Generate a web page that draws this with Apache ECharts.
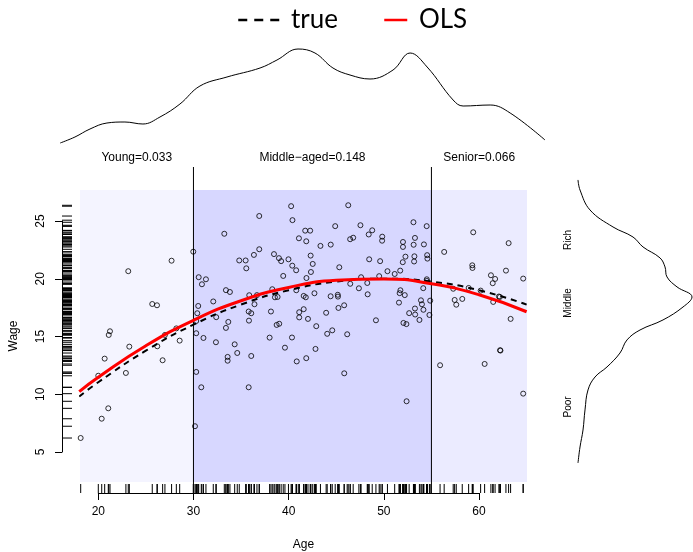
<!DOCTYPE html>
<html><head><meta charset="utf-8">
<script src="https://cdn.jsdelivr.net/npm/echarts@6/dist/echarts.min.js"></script>
<style>html,body{margin:0;padding:0;background:#fff}#c{width:693px;height:552px}</style>
</head><body><div id="c"></div><script>
// ---- data ----
const youngAges = [18.15,20.0,20.36,20.67,21.05,21.1,21.23,22.9,23.15,23.26,25.67,26.17,26.2,26.76,27.0,27.7,28.2,28.55];
const youngWages = [6.21,11.6,7.88,13.08,8.78,15.13,15.45,11.84,20.65,14.12,17.81,17.7,14.15,12.94,15.13,21.56,15.7,14.64];
const middleAges = [29.98,30.16,30.29,30.29,30.29,30.40,30.50,30.55,30.82,30.89,
31.05,31.31,32.08,32.39,32.36,33.24,33.41,33.41,33.66,33.59,
33.59,33.83,34.33,34.60,34.81,35.48,35.55,35.80,35.83,35.80,
35.86,36.07,36.07,36.35,36.41,36.67,36.91,36.91,38.00,38.14,
38.28,38.46,38.56,38.84,38.74,39.01,38.98,39.21,39.43,39.61,
39.98,40.26,40.40,40.38,40.35,40.79,40.80,40.85,41.08,41.11,
41.11,41.58,41.80,41.74,42.26,41.85,41.87,41.85,41.58,42.03,
42.31,42.53,42.34,42.71,42.82,42.90,43.34,43.94,44.05,44.41,
44.42,44.58,44.89,45.16,45.18,45.23,45.32,45.83,45.84,46.15,
46.26,46.46,46.78,46.47,47.38,47.54,47.61,48.26,48.30,48.41,
48.46,48.78,49.17,49.51,49.61,49.83,49.82,50.38,51.14,51.59,
51.66,51.74,51.72,52.01,52.01,51.99,52.06,52.20,52.27,52.37,
52.39,52.66,53.11,53.27,53.13,53.21,53.18,53.27,53.29,53.74,
53.90,54.00,54.16,54.21,54.14,54.50,54.55,54.58,54.51,54.51,
54.79,54.87];
const middleWages = [22.34,7.23,16.34,15.28,11.93,17.01,17.64,20.13,10.60,19.52,
14.87,19.95,18.03,16.67,14.50,23.89,19.01,15.74,16.26,13.23,
12.90,18.85,14.32,13.57,21.58,21.58,20.90,17.16,16.37,10.60,
18.57,17.01,13.31,22.06,17.79,18.58,25.43,22.55,14.90,17.16,
19.09,22.13,18.39,18.42,16.00,16.10,21.78,21.52,20.24,14.03,
21.68,26.28,25.07,21.13,14.91,20.73,19.00,12.84,23.50,17.10,
16.65,18.51,18.39,24.16,24.16,23.24,20.06,13.12,17.36,16.52,
22.00,21.28,20.58,18.74,13.92,15.89,22.84,17.05,15.23,18.48,
22.95,15.53,24.55,18.61,18.45,17.47,20.99,17.70,11.81,15.19,
26.36,23.42,23.55,19.56,19.17,24.63,20.13,19.63,18.65,23.83,
21.68,24.19,16.40,20.22,21.52,23.64,23.29,20.65,20.41,17.93,
18.75,19.00,20.70,23.18,22.75,21.43,16.17,18.58,21.91,16.07,
9.39,17.02,24.89,23.53,22.94,21.94,21.49,17.42,16.90,16.43,
18.13,17.79,17.31,22.97,19.18,24.55,22.04,21.74,19.95,19.81,
16.86,18.10];
const seniorAges = [55.91,56.34,57.29,57.44,57.61,58.24,58.91,59.29,59.31,59.39,60.17,60.59,61.25,61.69,61.44,61.49,62.09,62.19,62.21,62.25,62.83,63.11,63.32,64.64,64.64];
const seniorWages = [12.51,22.32,19.13,18.16,17.75,18.25,19.20,21.16,20.93,24.02,18.97,12.62,20.30,19.98,19.61,17.99,18.46,18.42,13.81,13.78,20.70,23.08,16.52,20.01,10.05];

const regionNames = ['Young', 'Middle\u2212aged', 'Senior'];
const regionShares = [0.033, 0.148, 0.066];
const ageBreaks = [30, 55];
const regionColors = ['rgb(244,244,255)', 'rgb(215,215,255)', 'rgb(235,235,255)'];

const fitAges = [18, 20, 25, 30, 35, 40, 45, 50, 55, 60, 65];
const trueFit = [9.8, 11.04, 13.77, 16.02, 17.76, 19.0, 19.75, 20.0, 19.75, 19.0, 17.76];
const olsFit = [10.23, 11.47, 14.2, 16.4, 18.09, 19.24, 19.87, 19.98, 19.56, 18.61, 17.14];

const ageDensX = [16.0,17.55,19.13,20.91,22.8,24.69,26.48,28.58,30.68,33.52,36.99,38.77,40.98,42.76,44.65,46.44,48.54,50.96,52.75,54.54,57.27,58.32,61.16,63.26,66.92];
const ageDensY = [0.0021,0.0039,0.0063,0.0081,0.0084,0.0078,0.0099,0.0138,0.0192,0.0219,0.0246,0.0270,0.0303,0.0291,0.0246,0.0225,0.0213,0.0240,0.0291,0.0249,0.0150,0.0132,0.0135,0.0111,0.0030];

const wageDensY = [28.55,27.68,25.95,24.48,23.61,22.75,21.80,21.02,20.15,19.29,18.42,17.55,16.43,15.56,14.70,13.57,12.36,11.49,10.37,8.64,6.90,5.43,4.05];
const wageDensX = [0.0036,0.006,0.018,0.0456,0.0696,0.0816,0.102,0.108,0.1104,0.1224,0.1404,0.1296,0.1056,0.078,0.0624,0.054,0.0384,0.024,0.0156,0.012,0.0096,0.006,0.0036];

const ageTicks = [20, 30, 40, 50, 60];
const wageTicks = [5, 10, 15, 20, 25];
const wageClassNames = ['Poor', 'Middle', 'Rich'];
const wageClassPos = [8.9, 17.9, 23.35];

// ---- derived ----
const AGE_MIN = 18.08, AGE_MAX = 65.04, WAGE_MIN = 2.4, WAGE_MAX = 27.68;
const allAges = youngAges.concat(middleAges, seniorAges);
const allWages = youngWages.concat(middleWages, seniorWages);
const points = allAges.map((a, i) => [a, allWages[i]]);
const edges = [AGE_MIN].concat(ageBreaks, [AGE_MAX]);
const areas = regionNames.map((n, i) => [
  { xAxis: edges[i], name: n + '=' + regionShares[i].toFixed(3), itemStyle: { color: regionColors[i] } },
  { xAxis: edges[i + 1] }
]);
const FONT = '"Liberation Sans", Arial, sans-serif';
const noSym = { color: 'rgba(0,0,0,0)', borderWidth: 0, opacity: 0 };
const G = { outerBoundsMode: 'none', containLabel: false };

const chart = echarts.init(document.getElementById('c'), null, { renderer: 'canvas' });
chart.setOption({
  animation: false,
  backgroundColor: '#fff',
  legend: [
    { data: [{ name: 'true', itemStyle: noSym, lineStyle: { type: [9, 7], width: 2.5, color: '#000' } }],
      left: 237, top: 7, padding: 0, itemWidth: 41, itemHeight: 14, selectedMode: false,
      formatter: n => ' ' + n,
      textStyle: { fontFamily: 'Lato', fontSize: 26, color: '#000' } },
    { data: [{ name: 'OLS', itemStyle: noSym, lineStyle: { width: 2.5, color: '#ff0000' } }],
      left: 383, top: 7, padding: 0, itemWidth: 23, itemHeight: 14, selectedMode: false,
      formatter: n => ' ' + n,
      textStyle: { fontFamily: 'Lato', fontSize: 26, color: '#000' } }
  ],
  grid: [
    Object.assign({ left: 80, top: 190, width: 447, height: 292 }, G),
    Object.assign({ left: 98.3, top: 484, width: 380.7, height: 9 }, G),
    Object.assign({ left: 62, top: 221, width: 10, height: 231 }, G),
    Object.assign({ left: 60, top: 40, width: 485, height: 110 }, G),
    Object.assign({ left: 575, top: 190, width: 118, height: 292 }, G)
  ],
  xAxis: [
    { gridIndex: 0, type: 'value', min: AGE_MIN, max: AGE_MAX, name: 'Age', nameLocation: 'middle', nameGap: 57,
      nameTextStyle: { fontFamily: FONT, fontSize: 12, color: '#000' },
      axisLine: { show: false }, axisTick: { show: false }, axisLabel: { show: false }, splitLine: { show: false } },
    { gridIndex: 1, type: 'value', min: ageTicks[0], max: ageTicks[ageTicks.length - 1], interval: 10, position: 'bottom',
      axisLine: { show: true, lineStyle: { color: '#000', width: 1 } },
      axisTick: { show: true, length: 7, lineStyle: { color: '#000' } },
      axisLabel: { show: true, margin: 13, fontFamily: FONT, fontSize: 12, color: '#000' },
      splitLine: { show: false } },
    { gridIndex: 2, type: 'value', min: 0, max: 1, show: false },
    { gridIndex: 3, type: 'value', min: 15.98, max: 66.92, show: false },
    { gridIndex: 4, type: 'value', min: 0, max: 0.1416, show: false }
  ],
  yAxis: [
    { gridIndex: 0, type: 'value', min: WAGE_MIN, max: WAGE_MAX, name: 'Wage', nameLocation: 'middle', nameGap: 60, nameRotate: 90,
      nameTextStyle: { fontFamily: FONT, fontSize: 12, color: '#000' },
      axisLine: { show: false }, axisTick: { show: false }, axisLabel: { show: false }, splitLine: { show: false } },
    { gridIndex: 1, type: 'value', min: 0, max: 1, show: false },
    { gridIndex: 2, type: 'value', min: wageTicks[0], max: wageTicks[wageTicks.length - 1], interval: 5, position: 'left',
      axisLine: { show: true, lineStyle: { color: '#000', width: 1 } },
      axisTick: { show: true, length: 7, lineStyle: { color: '#000' } },
      axisLabel: { show: true, rotate: 90, margin: 15, fontFamily: FONT, fontSize: 12, color: '#000' },
      splitLine: { show: false } },
    { gridIndex: 3, type: 'value', min: 0, max: 0.033, show: false },
    { gridIndex: 4, type: 'value', min: WAGE_MIN, max: WAGE_MAX, position: 'left',
      axisLine: { show: false }, axisTick: { show: false }, splitLine: { show: false },
      axisLabel: { show: true, rotate: 90, margin: 2, fontFamily: FONT, fontSize: 10, color: '#000',
        customValues: wageClassPos,
        formatter: v => { const i = wageClassPos.indexOf(v); return i >= 0 ? wageClassNames[i] : ''; } } }
  ],
  series: [
    { type: 'line', xAxisIndex: 0, yAxisIndex: 0, data: [], silent: true, z: 0,
      markArea: { silent: true, data: areas,
        label: { show: true, position: 'top', distance: 26, fontFamily: FONT, fontSize: 12, color: '#000' } } },
    { type: 'custom', xAxisIndex: 0, yAxisIndex: 0, clip: false, silent: true, z: 1,
      data: ageBreaks.map(a => [a, WAGE_MIN]),
      renderItem: (params, api) => {
        const x = api.coord([api.value(0), api.value(1)])[0];
        const cs = params.coordSys;
        return { type: 'line', shape: { x1: x, y1: cs.y - 23, x2: x, y2: cs.y + cs.height + 11 },
          style: { stroke: '#000', lineWidth: 1 } };
      } },
    { type: 'scatter', xAxisIndex: 0, yAxisIndex: 0, data: points, symbol: 'circle', symbolSize: 5, silent: true, z: 2,
      itemStyle: { color: 'rgba(0,0,0,0)', borderColor: '#000', borderWidth: 1 } },
    { name: 'true', type: 'line', xAxisIndex: 0, yAxisIndex: 0, data: fitAges.map((a, i) => [a, trueFit[i]]),
      smooth: true, symbol: 'none', silent: true, z: 3,
      lineStyle: { color: '#000', width: 2, type: [6, 5] }, itemStyle: { color: '#000' } },
    { name: 'OLS', type: 'line', xAxisIndex: 0, yAxisIndex: 0, data: fitAges.map((a, i) => [a, olsFit[i]]),
      smooth: true, symbol: 'none', silent: true, z: 4,
      lineStyle: { color: '#ff0000', width: 3 }, itemStyle: { color: '#ff0000' } },
    { type: 'custom', xAxisIndex: 1, yAxisIndex: 1, clip: false, silent: true,
      data: allAges.map(a => [a, 0]),
      renderItem: (params, api) => {
        const p0 = api.coord([api.value(0), 0]), p1 = api.coord([api.value(0), 1]);
        return { type: 'line', shape: { x1: p0[0], y1: p0[1], x2: p1[0], y2: p1[1] }, style: { stroke: '#000', lineWidth: 1 } };
      } },
    { type: 'custom', xAxisIndex: 2, yAxisIndex: 2, clip: false, silent: true,
      data: allWages.map(w => [0, w]),
      renderItem: (params, api) => {
        const p0 = api.coord([0, api.value(1)]), p1 = api.coord([1, api.value(1)]);
        return { type: 'line', shape: { x1: p0[0], y1: p0[1], x2: p1[0], y2: p1[1] }, style: { stroke: '#000', lineWidth: 1 } };
      } },
    { type: 'line', xAxisIndex: 3, yAxisIndex: 3, data: ageDensX.map((a, i) => [a, ageDensY[i]]),
      smooth: 0.4, symbol: 'none', silent: true, clip: false, lineStyle: { color: '#000', width: 1 } },
    { type: 'line', xAxisIndex: 4, yAxisIndex: 4, data: wageDensY.map((w, i) => [wageDensX[i], w]),
      smooth: 0.4, symbol: 'none', silent: true, clip: false, lineStyle: { color: '#000', width: 1 } }
  ]
});
</script></body></html>
